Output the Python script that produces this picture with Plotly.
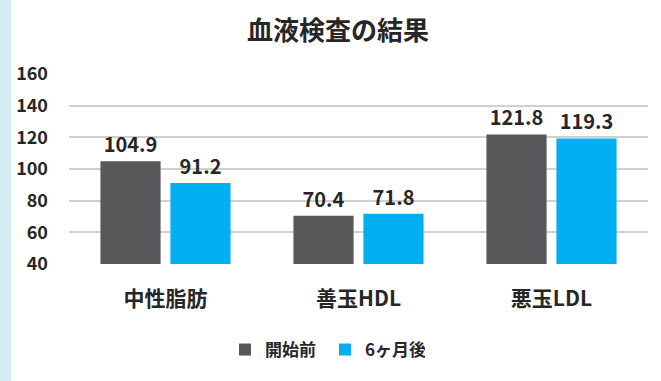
import plotly.graph_objects as go

categories = ["中性脂肪", "善玉HDL", "悪玉LDL"]
series_names = ["開始前", "6ヶ月後"]
before = [104.9, 70.4, 121.8]
after = [91.2, 71.8, 119.3]
y_ticks = [40, 60, 80, 100, 120, 140, 160]

FONT = "Noto Sans CJK JP"
TXT = "#262626"
colors = ["#58585b", "#00b0f0"]

fig = go.Figure()
for name, vals, col in zip(series_names, [before, after], colors):
    fig.add_trace(go.Bar(
        x=categories, y=vals, name=name, marker=dict(color=col, line=dict(width=0)),
        text=[f"{v:.1f}" for v in vals], textposition="outside",
        textfont=dict(family=FONT, size=20, color=TXT, weight="bold"),
        cliponaxis=False,
    ))

W, H = 661, 381
L, R, T, B = 69, 13, 74, 117
pw = W - L - R

fig.update_layout(
    width=W, height=H,
    margin=dict(l=L, r=R, t=T, b=B, autoexpand=False),
    paper_bgcolor="white", plot_bgcolor="white",
    barmode="group", bargap=0.275, bargroupgap=0.14,
    font=dict(family=FONT, color=TXT),
    title=dict(text="血液検査の結果", x=338 / W, xanchor="center", y=1 - 31 / H, yanchor="middle",
               xref="container", yref="container",
               font=dict(family=FONT, size=26, color=TXT, weight="bold")),
    showlegend=True,
    legend=dict(orientation="h", xref="container", yref="container", x=325 / W, xanchor="center",
                y=1 - 350 / H, yanchor="middle",
                font=dict(family=FONT, size=17, color=TXT, weight="bold"),
                itemwidth=30, traceorder="normal", entrywidth=55),
    xaxis=dict(showgrid=False, showline=False, zeroline=False, ticks="",
               tickfont=dict(family=FONT, size=21, color=TXT, weight="bold"),
               ticklabelstandoff=20),
    yaxis=dict(range=[40, 160], tickvals=y_ticks, showgrid=True, gridcolor="#d0d0d0", gridwidth=2,
               zeroline=False, showline=False, ticks="",
               tickfont=dict(family=FONT, size=18, color=TXT, weight="bold"),
               ticklabelstandoff=20),
    shapes=[dict(type="rect", xref="paper", yref="paper",
                 x0=-L / pw, x1=-(L - 11) / pw, y0=-2, y1=2,
                 fillcolor="#d6ecf3", line=dict(width=0), layer="above")],
)

fig.write_html("out.html", config={"displayModeBar": False},
               post_script="document.body.style.margin='0';document.body.style.padding='0';")
